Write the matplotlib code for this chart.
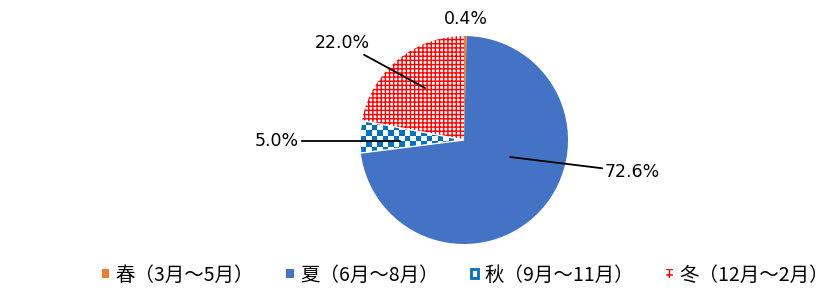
import numpy as np
import matplotlib.pyplot as plt
from matplotlib.patches import Patch, Wedge
from matplotlib.colors import ListedColormap

plt.rcParams['font.family'] = ['Noto Sans CJK JP', 'DejaVu Sans']
plt.rcParams['hatch.linewidth'] = 1.0

# data
seasons = ['春（3月～5月）', '夏（6月～8月）', '秋（9月～11月）', '冬（12月～2月）']
shares = [0.4, 72.6, 5.0, 22.0]
colors = ['#ED7D31', '#4472C4', 'white', 'white']

fig = plt.figure(figsize=(8.3, 2.95), dpi=100)
ax = fig.add_axes([0, 0, 1, 1])

cx, cy, r = 464, 295 - 140, 104
wedges, _ = ax.pie(shares, colors=colors, startangle=90, counterclock=False,
                   center=(cx, cy), radius=r, frame=True,
                   wedgeprops=dict(linewidth=0))

# winter: red grid hatch
wedges[3].set_hatch('++++')
wedges[3].set_edgecolor('#FF0000')
wedges[3].set_linewidth(0)

# autumn: checkerboard fill clipped to the wedge
n = 60
cell = 5.5
ii, jj = np.meshgrid(np.arange(n), np.arange(n))
checker = ((ii + jj) % 2).astype(float)
cmap = ListedColormap(['white', '#0070C0'])
x0, y0 = cx - r - 5, cy - 40
im = ax.imshow(checker, cmap=cmap, extent=(x0, x0 + n * cell, y0, y0 + n * cell),
               interpolation='nearest', zorder=2)
im.set_clip_path(wedges[2])

# thin white outline around the autumn slice
w = wedges[2]
ax.add_patch(Wedge(w.center, w.r, w.theta1, w.theta2, fill=False,
                   edgecolor='white', linewidth=1.0, zorder=3))

ax.set_xlim(0, 830)
ax.set_ylim(0, 295)
ax.set_aspect('equal')
ax.axis('off')

# labels
labels = [f'{v:.1f}%' for v in shares]
lab = dict(fontsize=12.5, family='DejaVu Sans', va='center')
line = dict(arrowstyle='-', color='black', lw=1.3, shrinkA=0, shrinkB=0)
ax.text(466, 295 - 19, labels[0], ha='center', **lab)
ax.annotate(labels[1], xy=(510, 295 - 157), xytext=(605, 295 - 172), ha='left',
            arrowprops=line, **lab)
ax.annotate(labels[2], xy=(400, 295 - 141), xytext=(299, 295 - 141), ha='right',
            arrowprops=line, **lab)
ax.annotate(labels[3], xy=(425, 295 - 88), xytext=(370, 295 - 43), ha='right',
            arrowprops=line, **lab)

# legend
handles = [
    Patch(facecolor='#ED7D31', edgecolor='none'),
    Patch(facecolor='#4472C4', edgecolor='none'),
    Patch(facecolor='white', edgecolor='#0070C0', linewidth=2),
    Patch(facecolor='white', edgecolor='#FF0000', hatch='+++', linewidth=0),
]
fig.legend(handles, seasons, loc='center', bbox_to_anchor=(0.561, 0.068), ncol=4,
           frameon=False, fontsize=14, handlelength=0.38, handleheight=0.38,
           handletextpad=0.32, columnspacing=1.65, borderpad=0, borderaxespad=0)

fig.savefig('out.png', dpi=100)
